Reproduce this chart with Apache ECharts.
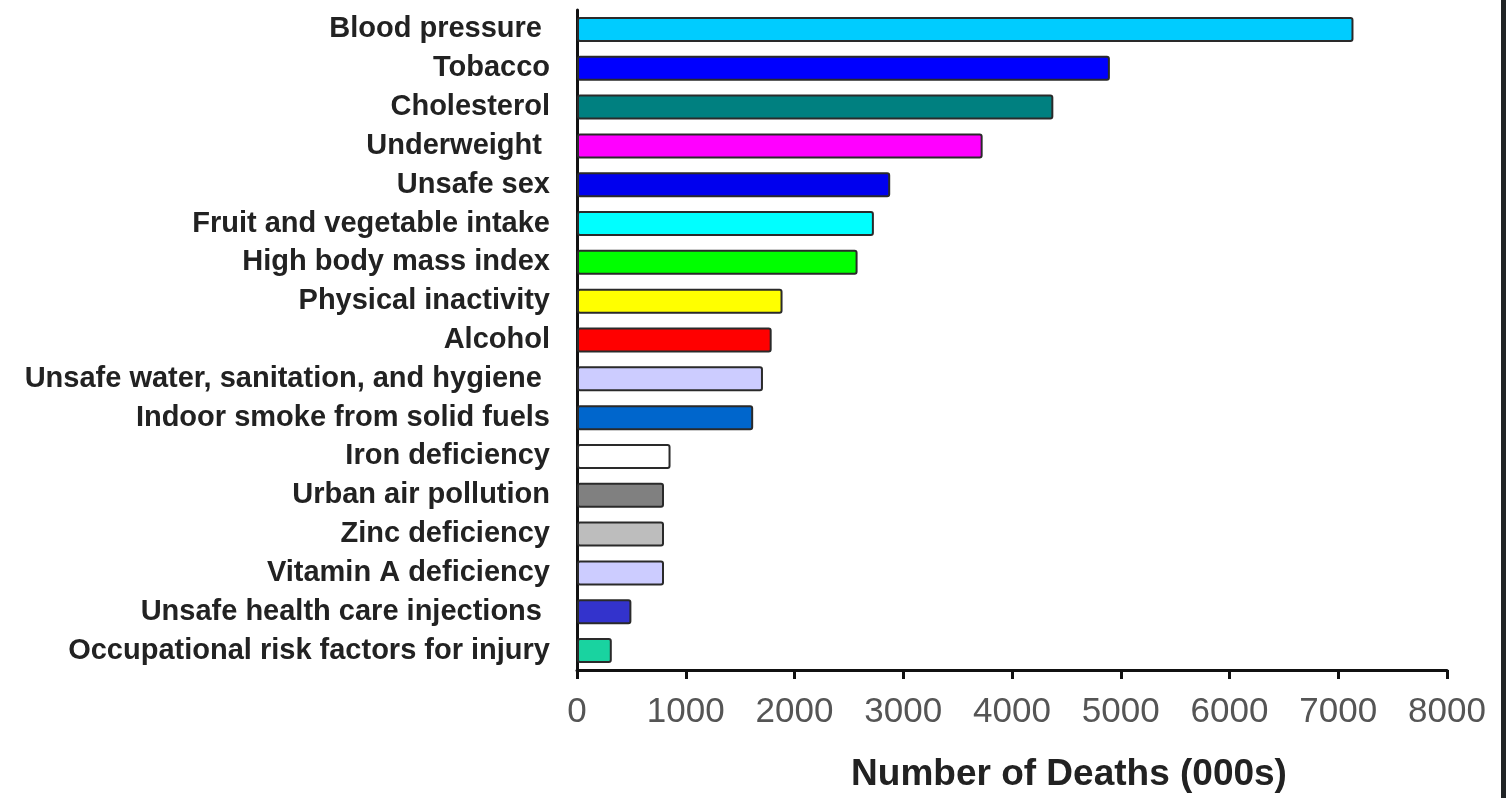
<!DOCTYPE html>
<html>
<head>
<meta charset="utf-8">
<script src="https://cdn.jsdelivr.net/npm/echarts@6/dist/echarts.min.js"></script>
<style>
html,body{margin:0;padding:0;background:#202325;}
#chart{width:1501px;height:798px;background:#fff;}
</style>
</head>
<body>
<div id="chart"></div>
<script>
const categories = [
  "Blood pressure ",
  "Tobacco",
  "Cholesterol",
  "Underweight ",
  "Unsafe sex",
  "Fruit and vegetable intake",
  "High body mass index",
  "Physical inactivity",
  "Alcohol",
  "Unsafe water, sanitation, and hygiene ",
  "Indoor smoke from solid fuels",
  "Iron deficiency",
  "Urban air pollution",
  "Zinc deficiency",
  "Vitamin A deficiency",
  "Unsafe health care injections ",
  "Occupational risk factors for injury"
];
const deaths = [7140, 4900, 4380, 3730, 2880, 2730, 2580, 1890, 1790, 1710, 1620, 860, 800, 800, 800, 500, 320];
const barColors = ["#00CCFF", "#0000FF", "#008080", "#FF00FF", "#0000EE", "#00FFFF", "#00FF00", "#FFFF00", "#FF0000", "#CCCCFF", "#0066CC", "#FFFFFF", "#808080", "#BDBDBD", "#CCCCFF", "#3333CC", "#19D3A0"];
const xTicks = [0, 1000, 2000, 3000, 4000, 5000, 6000, 7000, 8000];
const xName = "Number of Deaths (000s)";

const chart = echarts.init(document.getElementById('chart'));
chart.setOption({
  animation: false,
  backgroundColor: '#ffffff',
  grid: {left: 577, right: 54, top: 10, bottom: 122, containLabel: false},
  xAxis: {
    type: 'value',
    min: xTicks[0], max: xTicks[xTicks.length - 1], interval: 1000,
    splitLine: {show: false},
    axisLine: {show: true, lineStyle: {color: '#111', width: 3}},
    axisTick: {show: true, length: 9, lineStyle: {color: '#111', width: 3}},
    axisLabel: {color: '#555', fontSize: 35, fontFamily: 'Liberation Sans, Arial, sans-serif', margin: 25,
      formatter: v => String(v)},
    name: xName,
    nameLocation: 'middle',
    nameGap: 86,
    nameTextStyle: {color: '#222', fontSize: 37, fontWeight: 'bold', fontFamily: 'Liberation Sans, Arial, sans-serif', padding: [0, 0, 0, 114]}
  },
  yAxis: {
    type: 'category',
    inverse: true,
    data: categories,
    axisLine: {show: true, lineStyle: {color: '#111', width: 3}},
    axisTick: {show: false},
    axisLabel: {color: '#222', fontSize: 29, fontWeight: 'bold', fontFamily: 'Liberation Sans, Arial, sans-serif', margin: 27}
  },
  series: [{
    type: 'bar',
    data: deaths.map((v, i) => ({value: v, itemStyle: {color: barColors[i]}})),
    barWidth: 25,
    itemStyle: {borderColor: '#2a2a2a', borderWidth: 2, borderRadius: 2}
  }]
});
</script>
</body>
</html>
